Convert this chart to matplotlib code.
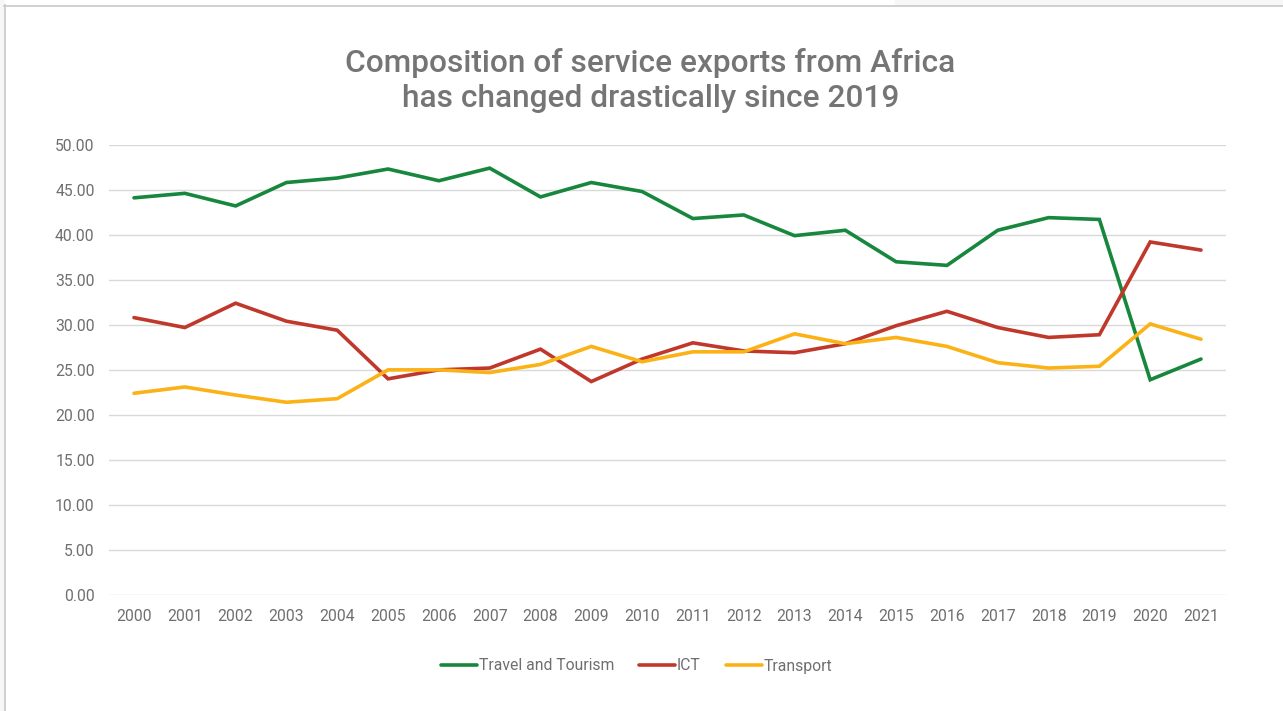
import matplotlib.pyplot as plt
from matplotlib.lines import Line2D
from matplotlib.patches import Rectangle

plt.rcParams['font.family'] = ['Roboto', 'DejaVu Sans']

years = [str(y) for y in range(2000, 2022)]
travel = [44.1, 44.6, 43.2, 45.8, 46.3, 47.3, 46.0, 47.4, 44.2, 45.8, 44.8,
          41.8, 42.2, 39.9, 40.5, 37.0, 36.6, 40.5, 41.9, 41.7, 23.9, 26.2]
ict = [30.8, 29.7, 32.4, 30.4, 29.4, 24.0, 25.0, 25.2, 27.3, 23.7, 26.2,
       28.0, 27.1, 26.9, 27.9, 29.9, 31.5, 29.7, 28.6, 28.9, 39.2, 38.3]
transport = [22.4, 23.1, 22.2, 21.4, 21.8, 25.0, 25.0, 24.7, 25.6, 27.6, 25.9,
             27.0, 27.0, 29.0, 27.9, 28.6, 27.6, 25.8, 25.2, 25.4, 30.1, 28.4]

series = [("Travel and Tourism", travel, "#17873d"),
          ("ICT", ict, "#c0382b"),
          ("Transport", transport, "#fbb217")]

txt = "#6f6f6f"

fig = plt.figure(figsize=(12.83, 7.11), dpi=100)
# light page background outside the chart frame
fig.patches.append(Rectangle((0, 0), 4 / 1283, 1, transform=fig.transFigure,
                             color="#f7f7f7", zorder=0))
fig.patches.append(Rectangle((895 / 1283, 1 - 5 / 711), 1, 5 / 711,
                             transform=fig.transFigure, color="#f7f7f7", zorder=0))
fig.add_artist(Line2D([4.5 / 1283, 4.5 / 1283], [0, 1 - 5 / 711],
                      transform=fig.transFigure, color="#c8c8c8", lw=1.2))
fig.add_artist(Line2D([4 / 1283, 1], [1 - 5.5 / 711, 1 - 5.5 / 711],
                      transform=fig.transFigure, color="#c8c8c8", lw=1.2))

ax = fig.add_axes([108.6 / 1283, 1 - 595 / 711, (1226.4 - 108.6) / 1283,
                   (595 - 144.7) / 711])

x = range(len(years))
for name, vals, col in series:
    ax.plot(x, vals, color=col, lw=2.6, label=name, solid_joinstyle="miter",
            solid_capstyle="round")

ax.set_xlim(-0.5, len(years) - 0.5)
ax.set_ylim(0, 50)
ax.set_xticks(list(x))
ax.set_xticklabels(years)
ax.set_yticks(range(0, 51, 5))
ax.set_yticklabels([f"{v:.2f}" for v in range(0, 51, 5)])
ax.tick_params(axis="both", length=0, colors=txt, labelsize=11.3)
ax.tick_params(axis="y", pad=10)
ax.tick_params(axis="x", pad=10)
ax.grid(axis="y", color="#d9d9d9", lw=1)
ax.set_axisbelow(True)
for s in ax.spines.values():
    s.set_visible(False)

fig.text(0.507, 1 - 63 / 711, "Composition of service exports from Africa",
         ha="center", va="center", fontsize=22.8, color="#757575", fontweight="medium")
fig.text(0.507, 1 - 98.5 / 711, "has changed drastically since 2019",
         ha="center", va="center", fontsize=22.8, color="#757575", fontweight="medium")

fig.legend(loc="center", bbox_to_anchor=(0.496, 1 - 666 / 711), ncol=3,
           frameon=False, fontsize=11.3, labelcolor=txt, handlelength=2.3,
           handletextpad=0.1, columnspacing=1.6)

fig.savefig("out.png", dpi=100)
